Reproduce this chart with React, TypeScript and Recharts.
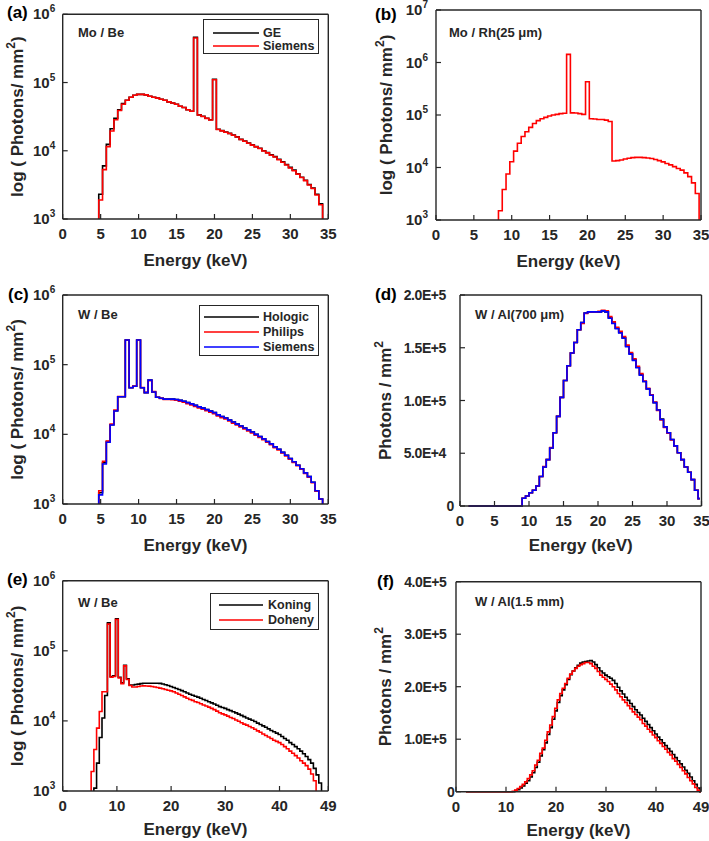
import React from "react";
import { LineChart, Line, XAxis, YAxis, Legend } from "recharts";

const FONT = '"Liberation Sans", Arial, Helvetica, sans-serif';
const INK = "#262626";
const BLACK = "#000000";
const RED = "#ff0000";
const BLUE = "#0000ff";

// bin centres, 0.5 keV bins
const bins = (first: number, count: number) =>
  Array.from({ length: count }, (_, i) => first + i * 0.5);

const X_TICKS_35 = [0, 5, 10, 15, 20, 25, 30, 35];
const X_TICKS_49 = [0, 10, 20, 30, 40, 49];
const LOG_TICKS_6 = [1e3, 1e4, 1e5, 1e6];
const LOG_TICKS_7 = [1e3, 1e4, 1e5, 1e6, 1e7];
const LIN_TICKS_D = [0, 5e4, 1e5, 1.5e5, 2e5];
const LIN_TICKS_F = [0, 1e5, 2e5, 3e5, 4e5];

// (a) Mo / Be — 100 marks "below the axis"
const energyA = bins(4.5, 61);
const geA = [
  100, 2300, 6000, 12400, 21000, 30000, 40000, 49000, 55000, 61000, 65000, 67000,
  67000, 66000, 63000, 61000, 59000, 57000, 55000, 52000, 50000, 48000, 45000, 43000, 40000, 38000, 460000,
  33600, 32000, 30000, 28500, 112000,
  20700, 19700, 18800, 18000, 17000, 16000, 14700, 13900, 13000, 12200, 11500, 10900, 10000, 9400, 8700,
  8200, 7500, 6900, 6300, 5700, 5200, 4600, 4100, 3700, 3200, 2850, 2300, 1670, 100,
];
const siemensA = [
  100, 1900, 5300, 11500, 19500, 28500, 39000, 48000, 55000, 61000, 65000, 67000,
  67000, 66000, 63000, 61000, 59000, 57000, 55000, 52000, 50000, 48000, 45000, 43000, 40000, 38000, 450000,
  33400, 31800, 29800, 28200, 110000,
  20500, 19600, 18700, 17900, 16900, 15900, 14600, 13800, 12900, 12100, 11400, 10800, 9900, 9300, 8600,
  8100, 7400, 6800, 6200, 5600, 5100, 4550, 4050, 3650, 3150, 2800, 2250, 1620, 100,
];

// (b) Mo / Rh(25 µm)
const energyB = bins(8.0, 55);
const rhB = [
  100, 1500, 3800, 7500, 12900, 20500, 29000, 39000, 48000, 58000, 69000, 78000, 85000, 90000,
  96000, 100000, 103000, 106000, 108000, 1430000, 110000, 109000, 106000, 103000, 430000,
  85000, 84000, 82000, 82000, 80000, 75000, 13300, 13500, 13900, 14500, 15000, 15400, 15600,
  15600, 15400, 15200, 14800, 14200, 13500, 12800, 11900, 11200, 10400, 9600, 8900, 7900, 6700,
  5100, 3200, 100,
];

// (c) W / Be
const energyC = bins(4.5, 61);
const hologicC = [
  100, 1450, 3900, 7900, 13700, 21800, 34700, 34700, 226000, 46700, 49000, 226000, 46700, 39700,
  60000, 40500, 34000, 33000, 32000, 32000, 32000, 31700, 30700, 29800, 28500, 27400, 26000, 24800,
  23800, 22600, 21500, 20500, 19000, 18000, 17200, 16000, 15000, 14000, 13200, 12300, 11600, 10800,
  10000, 9300, 8600, 7900, 7300, 6600, 6100, 5500, 5000, 4500, 4050, 3600, 3200, 2800, 2470, 2050,
  1550, 1180, 100,
];
const philipsC = [
  100, 1550, 4100, 8000, 14000, 22300, 35000, 35000, 224000, 47000, 49500, 224000, 47000, 40000,
  59000, 41000, 34000, 32800, 31800, 31600, 31400, 30900, 29900, 28900, 27600, 26500, 25200, 24000,
  23000, 21900, 20800, 19800, 18400, 17400, 16600, 15500, 14500, 13600, 12800, 11900, 11200, 10500,
  9700, 9000, 8400, 7700, 7100, 6450, 5950, 5400, 4900, 4400, 3950, 3550, 3150, 2750, 2420, 2020,
  1530, 1170, 100,
];
const siemensC = [
  100, 1350, 3750, 7700, 13600, 21600, 34700, 34700, 226000, 46700, 49000, 226000, 46700, 39700,
  60000, 40500, 34000, 33000, 32000, 32000, 32000, 31700, 30700, 29800, 28500, 27400, 26000, 24800,
  23800, 22600, 21500, 20500, 19000, 18000, 17200, 16000, 15000, 14000, 13200, 12300, 11600, 10800,
  10000, 9300, 8600, 7900, 7300, 6600, 6100, 5500, 5000, 4500, 4050, 3600, 3200, 2800, 2470, 2050,
  1550, 1180, 100,
];

// (d) W / Al(700 µm)
const energyD = bins(1.25, 68);
const hologicD = [
  0, 0, 0, 0, 0, 0, 0, 0, 0, 0, 0, 0, 0, 0, 0, 0,
  7300, 9500, 12600, 15000, 19000, 28000, 37000, 44000, 55000, 69500, 85000, 103000, 119000, 133000,
  145000, 155000, 167000, 174000, 183000, 184000, 184000, 184000, 184000, 185000, 184000, 178500,
  173500, 168500, 164500, 159500, 151500, 144500, 138500, 131500, 124500, 118000, 111000, 105000,
  98000, 91000, 82500, 75000, 69500, 63000, 57000, 50500, 44000, 37000, 32000, 25000, 15000, 7000,
];
const philipsD = [
  0, 0, 0, 0, 0, 0, 0, 0, 0, 0, 0, 0, 0, 0, 0, 0,
  7300, 9500, 12600, 15000, 19000, 28000, 37500, 44000, 55500, 69500, 85000, 103000, 119000, 133000,
  145000, 155000, 167000, 173000, 182500, 184000, 184000, 184000, 184500, 185500, 185000, 179500,
  174500, 169500, 165500, 160500, 152500, 145500, 139500, 132500, 125500, 118500, 111500, 105500,
  98500, 90500, 81500, 74500, 69000, 62500, 57000, 50500, 44000, 37000, 32000, 25000, 15000, 7000,
];
const siemensD = [
  0, 0, 0, 0, 0, 0, 0, 0, 0, 0, 0, 0, 0, 0, 0, 0,
  7300, 9500, 12600, 15000, 19000, 28000, 37000, 44000, 55000, 69500, 85000, 103000, 119000, 133000,
  145000, 155000, 167000, 174000, 183000, 184000, 184000, 184000, 184000, 185000, 184000, 178000,
  173000, 168000, 164000, 159000, 151000, 144000, 138000, 131000, 124000, 118000, 111000, 105000,
  98000, 91000, 82000, 75000, 69500, 63000, 57000, 50500, 44000, 37000, 32000, 25000, 15000, 7000,
];

// (e) W / Be, two models
const energyE = bins(5.0, 88);
const koningE = [
  100, 100, 1100, 2500, 5800, 11000, 23000, 250000, 43000, 44000, 285000, 42000, 35000, 62000, 40000,
  32500, 32500, 33000, 33500, 34000, 34500, 34500, 34500, 34500, 34500, 34500, 34300, 33600, 32800, 32000, 31000,
  30000, 29000, 28000, 27000, 26000, 25000, 24000, 23200, 22500, 21800, 21000, 20200, 19500, 18800, 18100,
  17400, 16700, 16000, 15500, 15100,
  14500, 14000, 13500, 13000, 12500, 12000, 11500, 11000, 10600, 10200, 9800, 9300, 8900, 8500, 8100,
  7700, 7300, 7000, 6700, 6400,
  6000, 5600, 5300, 4900, 4600, 4300, 4000, 3700, 3400, 3100, 2800, 2500, 2100, 1700, 1300,
  100, 100,
];
const dohenyE = [
  100, 1900, 3900, 7900, 13600, 26000, 26000, 240000, 42000, 43000, 280000, 41000, 34000, 61000, 39000,
  32000, 30500, 30500, 31000, 31500, 31600, 31500, 31300, 31000, 30500, 30000, 29300, 28700, 28000, 27400, 26800,
  26000, 25000, 24000, 23000, 22000, 21000, 20200, 19600, 18800, 18300, 17600, 16900, 16300, 15700, 15100,
  14500, 13800, 13100, 12600, 12200,
  11700, 11200, 10800, 10300, 9900, 9400, 9000, 8700, 8300, 8000, 7600, 7200, 6900, 6500, 6200,
  5900, 5600, 5300, 5100, 4900,
  4600, 4300, 4000, 3700, 3450, 3200, 2950, 2700, 2500, 2300, 2050, 1750, 1400,
  100, 100, 100, 100,
];

// (f) W / Al(1.5 mm)
const energyF = bins(2.0, 95);
const koningF = [
  0, 0, 0, 0, 0, 0, 0, 0, 0, 0, 0, 0, 0, 0, 0, 0, 0, 0, 0, 0,
  2000, 4000, 7000, 11000, 16000, 21000, 28000, 36000, 46000, 56000, 68000, 80000, 93000, 109000,
  122000, 138000, 154000, 170000, 183000, 194000, 204000, 214000, 223000, 230000, 236000, 241000,
  245000, 247000, 248000, 249000, 250000, 247000, 242000, 236000, 230000, 226000, 222000, 219000,
  216000, 212000, 206000, 199000, 192000, 186000, 180000, 174000, 168000, 162000, 156000, 151000,
  146000, 140000, 134000, 128000, 122000, 116000, 110000, 104000, 99000, 93000, 88000, 82000, 77000,
  71000, 65000, 59000, 53000, 47000, 41000, 35000, 28000, 21000, 14000, 7000, 0,
];
const dohenyF = [
  0, 0, 0, 0, 0, 0, 0, 0, 0, 0, 0, 0, 0, 0, 0, 0, 0, 0, 0,
  1000, 3000, 6000, 10000, 14000, 19000, 25000, 32000, 40000, 51000, 60000, 73000, 83000, 98000,
  114000, 127000, 143000, 159000, 175000, 187000, 197000, 206000, 216000, 224000, 230000, 235000,
  239000, 242000, 244000, 246000, 246000, 244000, 239000, 235000, 229000, 222000, 218000, 214000,
  210000, 205000, 200000, 194000, 187000, 181000, 175000, 170000, 164000, 158000, 152000, 147000,
  142000, 137000, 130000, 125000, 119000, 114000, 108000, 103000, 97000, 92000, 86000, 81000, 75000,
  70000, 63000, 58000, 52000, 46000, 40000, 34000, 27000, 21000, 15000, 8000, 3000, 0,
];

interface SeriesDef {
  key: string;
  name: string;
  color: string;
  values: number[];
}

interface LegendDef {
  box: [number, number, number, number]; // left, top, width, height
  firstRow: number;
  rowGap: number;
  line: [number, number];
  textX: number;
}

interface PanelDef {
  letter: string;
  tag: string;
  box: [number, number, number, number]; // chart left, top, width, height
  plot: [number, number, number, number]; // plot left, top, right, bottom
  energy: number[];
  series: SeriesDef[];
  xMax: number;
  xTicks: number[];
  log: boolean;
  yDomain: [number, number];
  yTicks: number[];
  yTickGap: number;
  yTitleX: number;
  xTitleDrop: number;
  letterPos: [number, number];
  tagPos: [number, number];
  legend?: LegendDef;
}

const toRows = (energy: number[], series: SeriesDef[]) =>
  energy.map((e, i) => {
    const row: Record<string, number> = { e };
    series.forEach((s) => {
      row[s.key] = s.values[i];
    });
    return row;
  });

const textStyle = {
  fontFamily: FONT,
  fontWeight: "bold" as const,
  fill: INK,
};

function XTick(props: any) {
  const { x, y, payload } = props;
  return (
    <text x={x} y={y} dy={5} textAnchor="middle" fontSize={15} {...textStyle}>
      {payload.value}
    </text>
  );
}

function LogTick(props: any) {
  const { x, y, payload } = props;
  const exp = Math.round(Math.log10(payload.value));
  return (
    <text x={x} y={y} dy={5} textAnchor="end" fontSize={15} {...textStyle}>
      10
      <tspan dy={-7} fontSize={10}>
        {exp}
      </tspan>
    </text>
  );
}

function ETick(props: any) {
  const { x, y, payload } = props;
  const v = payload.value as number;
  const label = v === 0 ? "0" : v.toExponential(1).toUpperCase();
  return (
    <text
      x={v === 0 ? x + 8 : x}
      y={y}
      dy={5}
      textAnchor="end"
      fontSize={14}
      letterSpacing={-0.4}
      {...textStyle}
    >
      {label}
    </text>
  );
}

function Panel({ p }: { p: PanelDef }) {
  const [bl, bt, bw, bh] = p.box;
  const [pl, pt, pr, pb] = p.plot;
  const data = toRows(p.energy, p.series);
  const leftW = pl - bl;
  const topH = pt - bt;
  const rightW = bl + bw - pr;
  const bottomH = bt + bh - pb;
  const midX = (pl + pr) / 2 - bl;
  const midY = (pt + pb) / 2 - bt;
  const axisLine = { stroke: INK, strokeWidth: 1.4 };
  const tickLine = { stroke: INK, strokeWidth: 1.2 };
  // log panels push the off-scale bins below the frame, so they need clipping
  const clip = p.log;

  const xTitle = () => (
    <text x={midX} y={pb - bt + p.xTitleDrop} textAnchor="middle" fontSize={17} {...textStyle}>
      Energy (keV)
    </text>
  );
  const yTitle = () => (
    <text
      transform={`translate(${p.yTitleX - bl},${midY}) rotate(-90)`}
      textAnchor="middle"
      dy={6}
      fontSize={17}
      {...textStyle}
    >
      {p.log ? "log ( Photons/ mm" : "Photons / mm"}
      <tspan dy={-8} fontSize={12}>
        2
      </tspan>
      <tspan dy={8}>{p.log ? ")" : ""}</tspan>
    </text>
  );

  const lg = p.legend;
  const renderLegend = () => {
    if (!lg) return null;
    const [ll, lt, lw, lh] = lg.box;
    return (
      <div
        style={{
          position: "relative",
          width: lw,
          height: lh,
          boxSizing: "border-box",
          border: `1.3px solid ${INK}`,
          background: "#fff",
        }}
      >
        {p.series.map((s, i) => {
          const cy = lg.firstRow + i * lg.rowGap - lt;
          return (
            <React.Fragment key={s.key}>
              <svg
                width={lg.line[1] - lg.line[0]}
                height={4}
                style={{ position: "absolute", left: lg.line[0] - ll, top: cy - 2 }}
              >
                <line x1={0} x2={lg.line[1] - lg.line[0]} y1={2} y2={2} stroke={s.color} strokeWidth={1.6} />
              </svg>
              <div
                style={{
                  position: "absolute",
                  left: lg.textX - ll,
                  top: cy - 8,
                  height: 16,
                  lineHeight: "16px",
                  fontFamily: FONT,
                  fontWeight: "bold",
                  fontSize: 12.5,
                  color: INK,
                  whiteSpace: "nowrap",
                }}
              >
                {s.name}
              </div>
            </React.Fragment>
          );
        })}
      </div>
    );
  };

  return (
    <div style={{ position: "absolute", left: bl, top: bt, width: bw, height: bh }}>
      <LineChart width={bw} height={bh} data={data} margin={{ top: 0, right: 0, bottom: 0, left: 0 }}>
        <XAxis
          xAxisId="b"
          dataKey="e"
          type="number"
          domain={[0, p.xMax]}
          ticks={p.xTicks}
          interval={0}
          allowDataOverflow={clip}
          height={bottomH}
          tickSize={-5}
          tickMargin={20}
          axisLine={axisLine}
          tickLine={tickLine}
          tick={<XTick />}
          label={xTitle}
        />
        <XAxis
          xAxisId="t"
          orientation="top"
          type="number"
          domain={[0, p.xMax]}
          ticks={p.xTicks}
          interval={0}
          allowDataOverflow
          height={topH}
          tickSize={-5}
          axisLine={axisLine}
          tickLine={tickLine}
          tick={false}
        />
        <YAxis
          yAxisId="l"
          type="number"
          scale={p.log ? "log" : "linear"}
          domain={p.yDomain}
          ticks={p.yTicks}
          interval={0}
          allowDataOverflow={clip}
          width={leftW}
          tickSize={-5}
          tickMargin={p.yTickGap + 5}
          axisLine={axisLine}
          tickLine={tickLine}
          tick={p.log ? <LogTick /> : <ETick />}
          label={yTitle}
        />
        <YAxis
          yAxisId="r"
          orientation="right"
          type="number"
          scale={p.log ? "log" : "linear"}
          domain={p.yDomain}
          ticks={p.yTicks}
          interval={0}
          allowDataOverflow
          width={rightW}
          tickSize={-5}
          axisLine={axisLine}
          tickLine={tickLine}
          tick={false}
        />
        {p.series.map((s) => (
          <Line
            key={s.key}
            xAxisId="b"
            yAxisId="l"
            type="step"
            dataKey={s.key}
            name={s.name}
            stroke={s.color}
            strokeWidth={1.6}
            dot={false}
            activeDot={false}
            isAnimationActive={false}
          />
        ))}
        {lg && (
          <Legend
            layout="horizontal"
            align="center"
            verticalAlign="middle"
            wrapperStyle={{
              left: lg.box[0] - bl,
              top: lg.box[1] - bt,
              width: lg.box[2],
              height: lg.box[3],
            }}
            content={renderLegend}
          />
        )}
      </LineChart>
      <div
        style={{
          position: "absolute",
          left: p.letterPos[0] - bl,
          top: p.letterPos[1] - bt - 10,
          height: 20,
          lineHeight: "20px",
          fontFamily: FONT,
          fontWeight: "bold",
          fontSize: 17,
          color: "#000",
        }}
      >
        {p.letter}
      </div>
      <div
        style={{
          position: "absolute",
          left: p.tagPos[0] - bl,
          top: p.tagPos[1] - bt - 8,
          height: 16,
          lineHeight: "16px",
          fontFamily: FONT,
          fontWeight: "bold",
          fontSize: 13,
          color: INK,
          whiteSpace: "nowrap",
        }}
      >
        {p.tag}
      </div>
    </div>
  );
}

const panels: PanelDef[] = [
  {
    letter: "(a)",
    tag: "Mo / Be",
    box: [0, 0, 345, 280],
    plot: [62.7, 14.3, 328.3, 219],
    energy: energyA,
    series: [
      { key: "ge", name: "GE", color: BLACK, values: geA },
      { key: "siemens", name: "Siemens", color: RED, values: siemensA },
    ],
    xMax: 35,
    xTicks: X_TICKS_35,
    log: true,
    yDomain: [1e3, 1e6],
    yTicks: LOG_TICKS_6,
    yTickGap: 7.5,
    yTitleX: 17,
    xTitleDrop: 47,
    letterPos: [7, 13],
    tagPos: [78, 33],
    legend: { box: [203, 19, 116, 35], firstRow: 31.5, rowGap: 13.5, line: [212, 258], textX: 262 },
  },
  {
    letter: "(b)",
    tag: "Mo / Rh(25 μm)",
    box: [350, 0, 359, 280],
    plot: [436, 10, 701, 220],
    energy: energyB,
    series: [{ key: "rh", name: "Mo / Rh", color: RED, values: rhB }],
    xMax: 35,
    xTicks: X_TICKS_35,
    log: true,
    yDomain: [1e3, 1e7],
    yTicks: LOG_TICKS_7,
    yTickGap: 8,
    yTitleX: 386,
    xTitleDrop: 47,
    letterPos: [375, 15],
    tagPos: [449, 33],
  },
  {
    letter: "(c)",
    tag: "W / Be",
    box: [0, 282, 345, 280],
    plot: [62.7, 295, 328.3, 504],
    energy: energyC,
    series: [
      { key: "hologic", name: "Hologic", color: BLACK, values: hologicC },
      { key: "philips", name: "Philips", color: RED, values: philipsC },
      { key: "siemens", name: "Siemens", color: BLUE, values: siemensC },
    ],
    xMax: 35,
    xTicks: X_TICKS_35,
    log: true,
    yDomain: [1e3, 1e6],
    yTicks: LOG_TICKS_6,
    yTickGap: 7.5,
    yTitleX: 17,
    xTitleDrop: 47,
    letterPos: [8, 295],
    tagPos: [78, 315],
    legend: { box: [199, 305, 120, 51], firstRow: 316, rowGap: 15, line: [203, 258], textX: 262 },
  },
  {
    letter: "(d)",
    tag: "W / Al(700 μm)",
    box: [350, 282, 359, 280],
    plot: [460, 295, 701.5, 506],
    energy: energyD,
    series: [
      { key: "hologic", name: "Hologic", color: BLACK, values: hologicD },
      { key: "philips", name: "Philips", color: RED, values: philipsD },
      { key: "siemens", name: "Siemens", color: BLUE, values: siemensD },
    ],
    xMax: 35,
    xTicks: X_TICKS_35,
    log: false,
    yDomain: [0, 2e5],
    yTicks: LIN_TICKS_D,
    yTickGap: 14,
    yTitleX: 385,
    xTitleDrop: 45,
    letterPos: [375, 295],
    tagPos: [475, 315],
  },
  {
    letter: "(e)",
    tag: "W / Be",
    box: [0, 562, 345, 279],
    plot: [62.7, 580.7, 328.3, 791],
    energy: energyE,
    series: [
      { key: "koning", name: "Koning", color: BLACK, values: koningE },
      { key: "doheny", name: "Doheny", color: RED, values: dohenyE },
    ],
    xMax: 49,
    xTicks: X_TICKS_49,
    log: true,
    yDomain: [1e3, 1e6],
    yTicks: LOG_TICKS_6,
    yTickGap: 7.5,
    yTitleX: 17,
    xTitleDrop: 44,
    letterPos: [7, 580],
    tagPos: [78, 603],
    legend: { box: [210, 593, 109, 37], firstRow: 604, rowGap: 15, line: [218, 262], textX: 267 },
  },
  {
    letter: "(f)",
    tag: "W / Al(1.5 mm)",
    box: [350, 562, 359, 279],
    plot: [456, 581.7, 701, 791.7],
    energy: energyF,
    series: [
      { key: "koning", name: "Koning", color: BLACK, values: koningF },
      { key: "doheny", name: "Doheny", color: RED, values: dohenyF },
    ],
    xMax: 49,
    xTicks: X_TICKS_49,
    log: false,
    yDomain: [0, 4e5],
    yTicks: LIN_TICKS_F,
    yTickGap: 9.5,
    yTitleX: 385,
    xTitleDrop: 44,
    letterPos: [377, 582],
    tagPos: [475, 602],
  },
];

export default function App() {
  return (
    <div style={{ position: "absolute", left: 0, top: 0, width: 709, height: 841, background: "#fff" }}>
      {panels.map((p) => (
        <Panel key={p.letter} p={p} />
      ))}
    </div>
  );
}
